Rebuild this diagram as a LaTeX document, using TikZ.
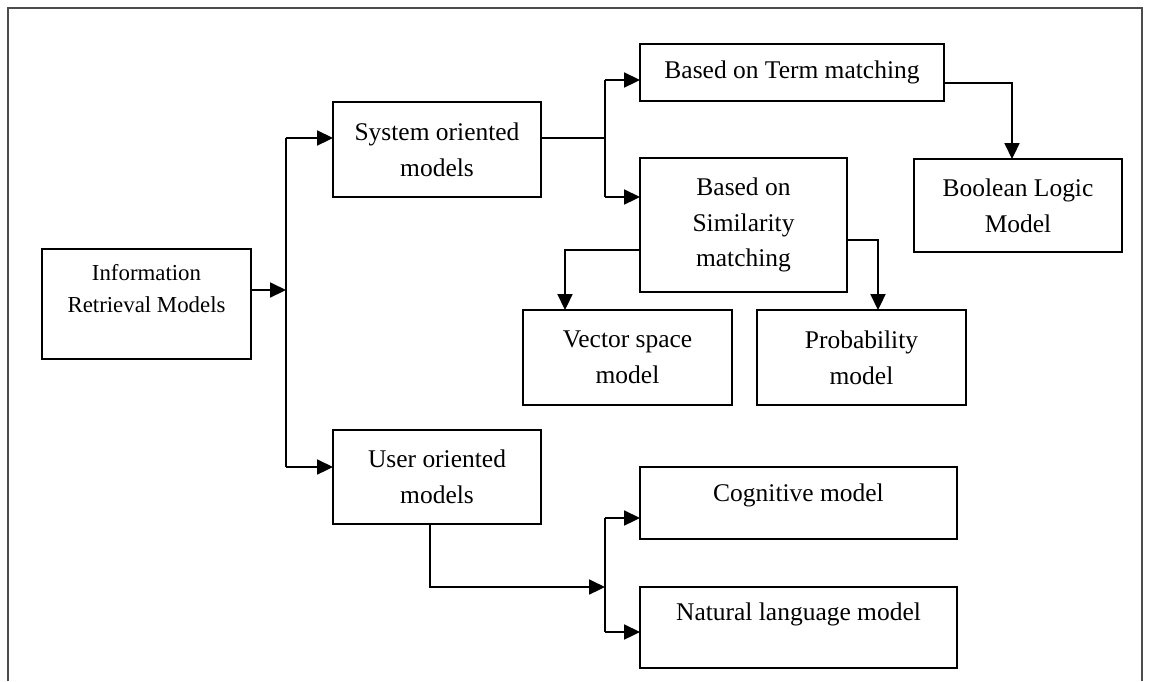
\documentclass[tikz,border=0pt]{standalone}
\usepackage{fontspec}
\setmainfont{Liberation Serif}
\usetikzlibrary{shapes.geometric, arrows.meta, positioning}
\tikzstyle{arrow} = [line width=0.9pt,-{Triangle[length=9pt,width=8.5pt]}]

\begin{document}
\begin{tikzpicture}[x=0.02cm,y=-0.02cm]
    \tikzstyle{model}=[draw, line width=0.9pt, rectangle, inner sep=0pt, outer sep=0pt, align=center, font=\fontsize{14.5}{20.4}\selectfont]
    \tikzstyle{link}=[line width=0.9pt]

    \useasboundingbox (0,0) rectangle (1151,681);
    \draw[line width=0.9pt, black!70] (8,681) -- (8,8) -- (1142,8) -- (1142,681);

    \node[model, minimum width=4.18cm, minimum height=2.2cm, text depth=18pt, font=\fontsize{13}{18}\selectfont] (irm) at (146.5,304) {Information\\Retrieval Models};
    \node[model, minimum width=4.16cm, minimum height=1.9cm] (sysm) at (437,149.5) {System oriented\\models};
    \node[model, minimum width=4.16cm, minimum height=1.88cm] (userm) at (437,477) {User oriented\\models};
    \node[model, minimum width=6.08cm, minimum height=1.14cm] (termm) at (792,72.5) {Based on Term matching};
    \node[model, minimum width=4.14cm, minimum height=2.68cm] (simm) at (743.5,225) {Based on\\Similarity\\matching};
    \node[model, minimum width=4.16cm, minimum height=1.86cm] (boolm) at (1018,205.5) {Boolean Logic\\Model};
    \node[model, minimum width=4.18cm, minimum height=1.9cm] (vecm) at (627.5,357.5) {Vector space\\model};
    \node[model, minimum width=4.18cm, minimum height=1.9cm] (probm) at (861.5,357.5) {Probability\\model};
    \node[model, minimum width=6.34cm, minimum height=1.44cm, text depth=12pt] (cogm) at (798.5,503) {Cognitive model};
    \node[model, minimum width=6.34cm, minimum height=1.62cm, text depth=18pt] (natm) at (798.5,627.5) {Natural language model};

    % junction points
    \coordinate (ja) at (286,290);
    \coordinate (bus1) at (286,138);
    \coordinate (bus2) at (286,467);
    \coordinate (jb) at (605,138);
    \coordinate (tb) at (605,80);
    \coordinate (sb) at (605,197);
    \coordinate (tc) at (1012,83);
    \coordinate (vc) at (565,250);
    \coordinate (pc) at (878,240);
    \coordinate (uc) at (430,587);
    \coordinate (jc) at (605,587);
    \coordinate (cb) at (605,518);
    \coordinate (nb) at (605,632);

    \draw[arrow] (irm.east |- ja) -- (ja);
    \draw[link] (bus1) -- (bus2);
    \draw[arrow] (bus1) -- (bus1 -| sysm.west);
    \draw[arrow] (bus2) -- (bus2 -| userm.west);

    \draw[link] (sysm.east |- jb) -- (jb);
    \draw[link] (tb) -- (sb);
    \draw[arrow] (tb) -- (tb -| termm.west);
    \draw[arrow] (sb) -- (sb -| simm.west);

    \draw[arrow] (termm.east |- tc) -- (tc) -- (tc |- boolm.north);
    \draw[arrow] (simm.west |- vc) -- (vc) -- (vc |- vecm.north);
    \draw[arrow] (simm.east |- pc) -- (pc) -- (pc |- probm.north);

    \draw[arrow] (uc |- userm.south) -- (uc) -- (jc);
    \draw[link] (cb) -- (nb);
    \draw[arrow] (cb) -- (cb -| cogm.west);
    \draw[arrow] (nb) -- (nb -| natm.west);
\end{tikzpicture}
\end{document}
